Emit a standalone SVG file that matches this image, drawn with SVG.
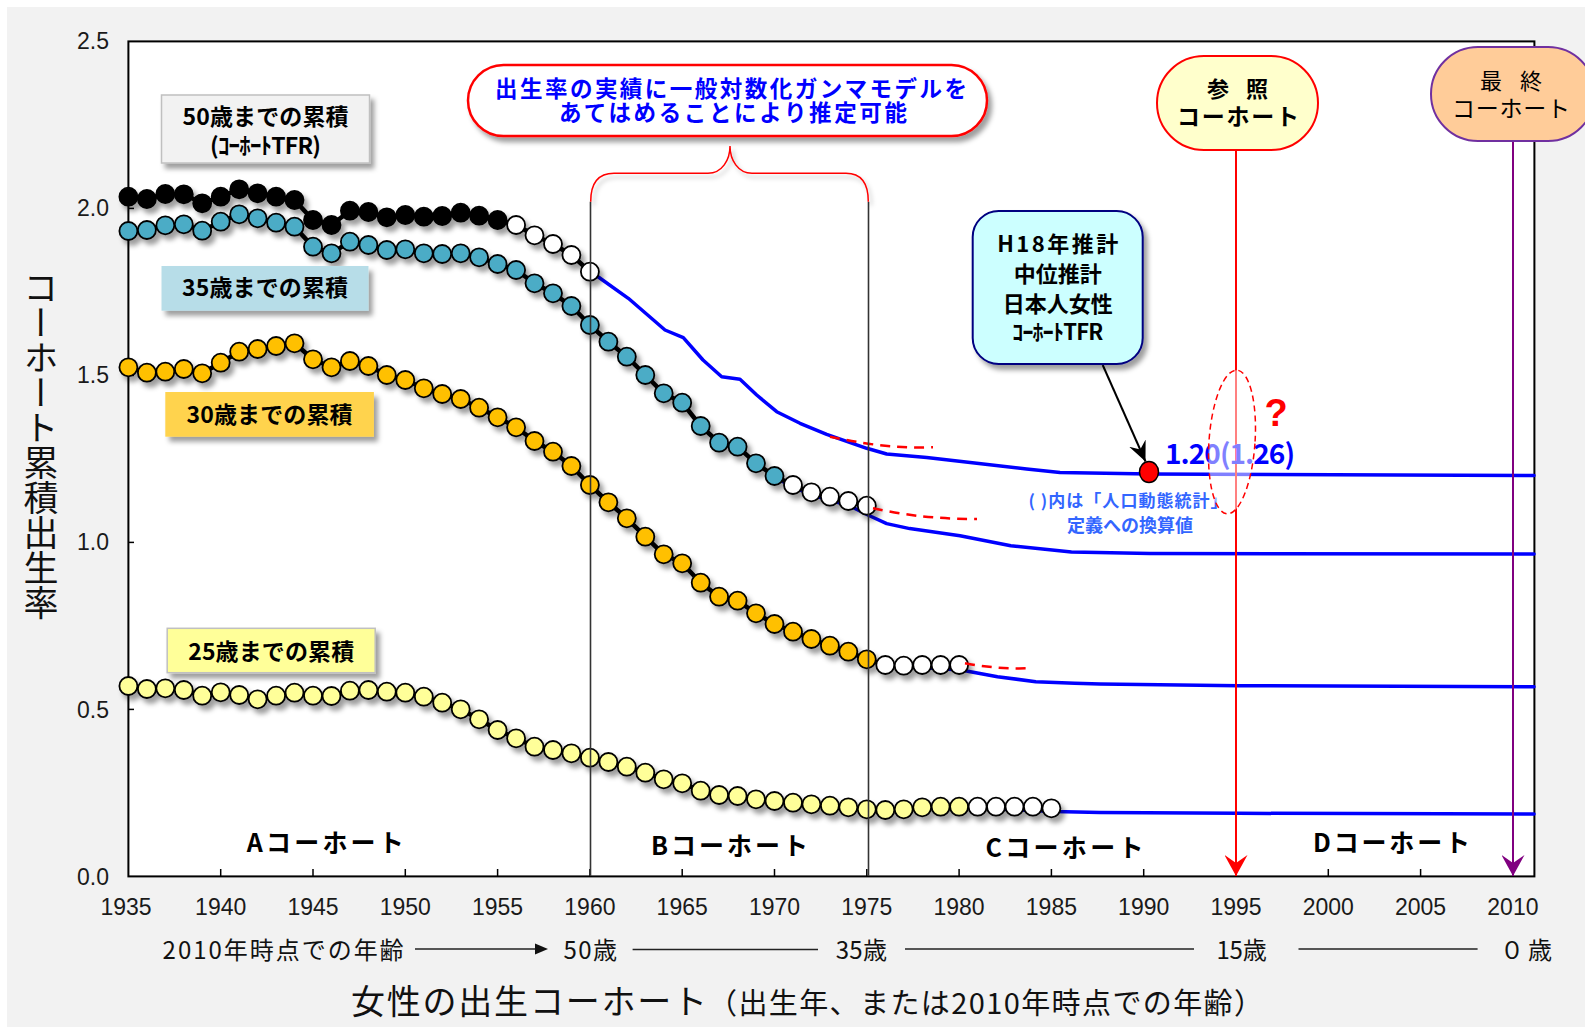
<svg xmlns="http://www.w3.org/2000/svg" width="1585" height="1027" viewBox="0 0 1585 1027">
<defs>
<style>
.jp{font-family:'Noto Sans CJK JP','Noto Sans CJK SC',sans-serif}
.num{font-family:'Liberation Sans',Arial,sans-serif;font-size:23px;fill:#1a1a1a}
.b{font-weight:bold}
.ser circle{stroke:#000;stroke-width:1.8}
.conn{fill:none;stroke:#000;stroke-width:4.5;stroke-linejoin:round}
.proj{fill:none;stroke:#0000ff;stroke-width:3.5;stroke-linejoin:round;stroke-linecap:round}
.rdash{fill:none;stroke:#ff0000;stroke-width:2.5;stroke-dasharray:10 7}
.tick{stroke:#000;stroke-width:1.5}
.vline{stroke:#333;stroke-width:1.6}
.k{fill:#000}.t{fill:#4bacc6}.o{fill:#ffc000}.y{fill:#ffff99}.w{fill:#fff}
.lbl{font-size:23px;font-weight:bold;fill:#000}
.coh{font-size:25px;font-weight:bold;fill:#000}
.row{font-size:24px;fill:#111}
.hl{stroke:#222;stroke-width:1.6}
</style>
<filter id="sh" x="-10%" y="-10%" width="130%" height="140%">
<feDropShadow dx="4" dy="5" stdDeviation="2.5" flood-color="#000" flood-opacity="0.38"/>
</filter>
<filter id="shs" x="-10%" y="-10%" width="130%" height="140%">
<feDropShadow dx="3" dy="4" stdDeviation="2" flood-color="#000" flood-opacity="0.25"/>
</filter>
<marker id="ahR" viewBox="0 0 21 23" refX="21" refY="11.5" markerWidth="21" markerHeight="23" markerUnits="userSpaceOnUse" orient="auto">
<path d="M0,0 L21,11.5 L0,23 L8,11.5 Z" fill="#ff0000"/>
</marker>
<marker id="ahP" viewBox="0 0 21 23" refX="21" refY="11.5" markerWidth="21" markerHeight="23" markerUnits="userSpaceOnUse" orient="auto">
<path d="M0,0 L21,11.5 L0,23 L8,11.5 Z" fill="#800080"/>
</marker>
<marker id="ahK" viewBox="0 0 20 18" refX="20" refY="9" markerWidth="20" markerHeight="18" markerUnits="userSpaceOnUse" orient="auto">
<path d="M0,0 L20,9 L0,18 L7,9 Z" fill="#000"/>
</marker>
</defs>

<rect x="0" y="0" width="1585" height="1027" fill="#fff"/>
<rect x="7" y="7" width="1578" height="1020" fill="#f2f2f2"/>

<g id="plot-area">
<rect x="128.4" y="41.4" width="1406" height="835" fill="#fff" stroke="#000" stroke-width="2"/>
<g class="tick">
<line x1="128.4" y1="208.4" x2="134" y2="208.4"/>
<line x1="128.4" y1="375.4" x2="134" y2="375.4"/>
<line x1="128.4" y1="542.4" x2="134" y2="542.4"/>
<line x1="128.4" y1="709.4" x2="134" y2="709.4"/>
<line x1="220.7" y1="876.4" x2="220.7" y2="869"/>
<line x1="313" y1="876.4" x2="313" y2="869"/>
<line x1="405.3" y1="876.4" x2="405.3" y2="869"/>
<line x1="497.6" y1="876.4" x2="497.6" y2="869"/>
<line x1="589.9" y1="876.4" x2="589.9" y2="869"/>
<line x1="682.2" y1="876.4" x2="682.2" y2="869"/>
<line x1="774.5" y1="876.4" x2="774.5" y2="869"/>
<line x1="866.8" y1="876.4" x2="866.8" y2="869"/>
<line x1="959.1" y1="876.4" x2="959.1" y2="869"/>
<line x1="1051.4" y1="876.4" x2="1051.4" y2="869"/>
<line x1="1143.7" y1="876.4" x2="1143.7" y2="869"/>
<line x1="1236" y1="876.4" x2="1236" y2="869"/>
<line x1="1328.3" y1="876.4" x2="1328.3" y2="869"/>
<line x1="1420.6" y1="876.4" x2="1420.6" y2="869"/>
<line x1="1512.9" y1="876.4" x2="1512.9" y2="869"/>
</g>
</g>

<g id="projections">
<polyline class="proj" points="589.9,271.7 598,276.7 628.3,298.3 665,330 683.3,337.7 703,360 721.7,376.7 740,379.3 756.7,395 776.7,411.7 800,423.3 826.7,434.3 866.7,448.3 886.7,454 926.7,457.5 976.7,463.3 1026.7,469 1060,472.5 1150,474 1534,475.5"/>
<polyline class="proj" points="776,478 795,488 813.3,495.5 831.7,500.5 850,506 869,515.5 886.7,523.6 909.7,528.6 960,535.7 1010.8,545.8 1071.4,551.9 1150,553.5 1534,554"/>
<polyline class="proj" points="905,667 932.5,668.3 961,670 997.5,676.7 1035.8,681.7 1074.6,683.3 1100,684 1238.8,685.7 1534,686.7"/>
<polyline class="proj" points="1000,809 1054,811.5 1100,812.5 1238.8,813.3 1534,814"/>
</g>

<g id="series-50" class="ser" filter="url(#sh)">
<polyline class="conn" points="128.4,196.7 146.9,199 165.3,194 183.8,194.3 202.2,203.3 220.7,196.7 239.2,189.3 257.6,193.3 276.1,196.7 294.5,200 313,220 331.5,225 349.9,210.7 368.4,212 386.8,217.3 405.3,215 423.8,216.7 442.2,216 460.7,212.7 479.1,215.7 497.6,220 516.1,225 534.5,235.3 553,244 571.4,255 589.9,271.7"/>
<g class="k">
<circle cx="128.4" cy="196.7" r="9"/><circle cx="146.9" cy="199" r="9"/><circle cx="165.3" cy="194" r="9"/><circle cx="183.8" cy="194.3" r="9"/><circle cx="202.2" cy="203.3" r="9"/><circle cx="220.7" cy="196.7" r="9"/><circle cx="239.2" cy="189.3" r="9"/><circle cx="257.6" cy="193.3" r="9"/><circle cx="276.1" cy="196.7" r="9"/><circle cx="294.5" cy="200" r="9"/><circle cx="313" cy="220" r="9"/><circle cx="331.5" cy="225" r="9"/><circle cx="349.9" cy="210.7" r="9"/><circle cx="368.4" cy="212" r="9"/><circle cx="386.8" cy="217.3" r="9"/><circle cx="405.3" cy="215" r="9"/><circle cx="423.8" cy="216.7" r="9"/><circle cx="442.2" cy="216" r="9"/><circle cx="460.7" cy="212.7" r="9"/><circle cx="479.1" cy="215.7" r="9"/><circle cx="497.6" cy="220" r="9"/>
</g>
<g class="w">
<circle cx="516.1" cy="225" r="9"/><circle cx="534.5" cy="235.3" r="9"/><circle cx="553" cy="244" r="9"/><circle cx="571.4" cy="255" r="9"/><circle cx="589.9" cy="271.7" r="9"/>
</g>
</g>

<g id="series-35" class="ser" filter="url(#sh)">
<polyline class="conn" points="128.4,231 146.9,230 165.3,225.3 183.8,224.3 202.2,230.7 220.7,221.7 239.2,214.3 257.6,218.3 276.1,222.7 294.5,226.7 313,246.7 331.5,253.3 349.9,241.7 368.4,245 386.8,250 405.3,249.3 423.8,253.3 442.2,254 460.7,253.3 479.1,257.3 497.6,264 516.1,270 534.5,283.3 553,293.3 571.4,306 589.9,325 608.4,341.7 626.8,356.7 645.3,375 663.7,393.3 682.2,402.7 700.7,426 719.1,442.7 737.6,446.7 756,463.3 774.5,476 793,485 811.4,492.3 829.9,496.7 848.3,501 866.8,505.7"/>
<g class="t">
<circle cx="128.4" cy="231" r="9"/><circle cx="146.9" cy="230" r="9"/><circle cx="165.3" cy="225.3" r="9"/><circle cx="183.8" cy="224.3" r="9"/><circle cx="202.2" cy="230.7" r="9"/><circle cx="220.7" cy="221.7" r="9"/><circle cx="239.2" cy="214.3" r="9"/><circle cx="257.6" cy="218.3" r="9"/><circle cx="276.1" cy="222.7" r="9"/><circle cx="294.5" cy="226.7" r="9"/><circle cx="313" cy="246.7" r="9"/><circle cx="331.5" cy="253.3" r="9"/><circle cx="349.9" cy="241.7" r="9"/><circle cx="368.4" cy="245" r="9"/><circle cx="386.8" cy="250" r="9"/><circle cx="405.3" cy="249.3" r="9"/><circle cx="423.8" cy="253.3" r="9"/><circle cx="442.2" cy="254" r="9"/><circle cx="460.7" cy="253.3" r="9"/><circle cx="479.1" cy="257.3" r="9"/><circle cx="497.6" cy="264" r="9"/><circle cx="516.1" cy="270" r="9"/><circle cx="534.5" cy="283.3" r="9"/><circle cx="553" cy="293.3" r="9"/><circle cx="571.4" cy="306" r="9"/><circle cx="589.9" cy="325" r="9"/><circle cx="608.4" cy="341.7" r="9"/><circle cx="626.8" cy="356.7" r="9"/><circle cx="645.3" cy="375" r="9"/><circle cx="663.7" cy="393.3" r="9"/><circle cx="682.2" cy="402.7" r="9"/><circle cx="700.7" cy="426" r="9"/><circle cx="719.1" cy="442.7" r="9"/><circle cx="737.6" cy="446.7" r="9"/><circle cx="756" cy="463.3" r="9"/><circle cx="774.5" cy="476" r="9"/>
</g>
<g class="w">
<circle cx="793" cy="485" r="9"/><circle cx="811.4" cy="492.3" r="9"/><circle cx="829.9" cy="496.7" r="9"/><circle cx="848.3" cy="501" r="9"/><circle cx="866.8" cy="505.7" r="9"/>
</g>
</g>

<g id="series-30" class="ser" filter="url(#sh)">
<polyline class="conn" points="128.4,367.3 146.9,372.7 165.3,371.7 183.8,369 202.2,373.3 220.7,362.7 239.2,351.7 257.6,349 276.1,346 294.5,343.3 313,359.3 331.5,367.3 349.9,361 368.4,366 386.8,375 405.3,380 423.8,388.3 442.2,394 460.7,399 479.1,407.7 497.6,417.3 516.1,427.3 534.5,441 553,451.7 571.4,466 589.9,485 608.4,502.3 626.8,518.3 645.3,536.7 663.7,554.3 682.2,563.3 700.7,582.7 719.1,596.7 737.6,600.7 756,613.3 774.5,624 793,631.7 811.4,639 829.9,645.7 848.3,651.7 866.8,659.3 885.3,665 903.7,665.7 922.2,665 940.6,665 959.1,665"/>
<g class="o">
<circle cx="128.4" cy="367.3" r="9"/><circle cx="146.9" cy="372.7" r="9"/><circle cx="165.3" cy="371.7" r="9"/><circle cx="183.8" cy="369" r="9"/><circle cx="202.2" cy="373.3" r="9"/><circle cx="220.7" cy="362.7" r="9"/><circle cx="239.2" cy="351.7" r="9"/><circle cx="257.6" cy="349" r="9"/><circle cx="276.1" cy="346" r="9"/><circle cx="294.5" cy="343.3" r="9"/><circle cx="313" cy="359.3" r="9"/><circle cx="331.5" cy="367.3" r="9"/><circle cx="349.9" cy="361" r="9"/><circle cx="368.4" cy="366" r="9"/><circle cx="386.8" cy="375" r="9"/><circle cx="405.3" cy="380" r="9"/><circle cx="423.8" cy="388.3" r="9"/><circle cx="442.2" cy="394" r="9"/><circle cx="460.7" cy="399" r="9"/><circle cx="479.1" cy="407.7" r="9"/><circle cx="497.6" cy="417.3" r="9"/><circle cx="516.1" cy="427.3" r="9"/><circle cx="534.5" cy="441" r="9"/><circle cx="553" cy="451.7" r="9"/><circle cx="571.4" cy="466" r="9"/><circle cx="589.9" cy="485" r="9"/><circle cx="608.4" cy="502.3" r="9"/><circle cx="626.8" cy="518.3" r="9"/><circle cx="645.3" cy="536.7" r="9"/><circle cx="663.7" cy="554.3" r="9"/><circle cx="682.2" cy="563.3" r="9"/><circle cx="700.7" cy="582.7" r="9"/><circle cx="719.1" cy="596.7" r="9"/><circle cx="737.6" cy="600.7" r="9"/><circle cx="756" cy="613.3" r="9"/><circle cx="774.5" cy="624" r="9"/><circle cx="793" cy="631.7" r="9"/><circle cx="811.4" cy="639" r="9"/><circle cx="829.9" cy="645.7" r="9"/><circle cx="848.3" cy="651.7" r="9"/><circle cx="866.8" cy="659.3" r="9"/>
</g>
<g class="w">
<circle cx="885.3" cy="665" r="9"/><circle cx="903.7" cy="665.7" r="9"/><circle cx="922.2" cy="665" r="9"/><circle cx="940.6" cy="665" r="9"/><circle cx="959.1" cy="665" r="9"/>
</g>
</g>

<g id="series-25" class="ser" filter="url(#sh)">
<polyline class="conn" points="128.4,686 146.9,689 165.3,688.3 183.8,690 202.2,695.7 220.7,692.3 239.2,695 257.6,699.3 276.1,695.7 294.5,692.7 313,695.7 331.5,696 349.9,690.7 368.4,690 386.8,691.7 405.3,692.7 423.8,696.7 442.2,702.7 460.7,709.3 479.1,719.3 497.6,730 516.1,738.3 534.5,746.7 553,750 571.4,753.3 589.9,757.7 608.4,762 626.8,766.7 645.3,772.7 663.7,779.3 682.2,783.3 700.7,790.7 719.1,795 737.6,796 756,799.3 774.5,801 793,802.7 811.4,804.3 829.9,805.7 848.3,807.3 866.8,809.3 885.3,810 903.7,809.3 922.2,807.3 940.6,806.7 959.1,806.7 977.6,806.7 996,806.7 1014.5,806.7 1032.9,806.7 1051.4,808.3"/>
<g class="y">
<circle cx="128.4" cy="686" r="9"/><circle cx="146.9" cy="689" r="9"/><circle cx="165.3" cy="688.3" r="9"/><circle cx="183.8" cy="690" r="9"/><circle cx="202.2" cy="695.7" r="9"/><circle cx="220.7" cy="692.3" r="9"/><circle cx="239.2" cy="695" r="9"/><circle cx="257.6" cy="699.3" r="9"/><circle cx="276.1" cy="695.7" r="9"/><circle cx="294.5" cy="692.7" r="9"/><circle cx="313" cy="695.7" r="9"/><circle cx="331.5" cy="696" r="9"/><circle cx="349.9" cy="690.7" r="9"/><circle cx="368.4" cy="690" r="9"/><circle cx="386.8" cy="691.7" r="9"/><circle cx="405.3" cy="692.7" r="9"/><circle cx="423.8" cy="696.7" r="9"/><circle cx="442.2" cy="702.7" r="9"/><circle cx="460.7" cy="709.3" r="9"/><circle cx="479.1" cy="719.3" r="9"/><circle cx="497.6" cy="730" r="9"/><circle cx="516.1" cy="738.3" r="9"/><circle cx="534.5" cy="746.7" r="9"/><circle cx="553" cy="750" r="9"/><circle cx="571.4" cy="753.3" r="9"/><circle cx="589.9" cy="757.7" r="9"/><circle cx="608.4" cy="762" r="9"/><circle cx="626.8" cy="766.7" r="9"/><circle cx="645.3" cy="772.7" r="9"/><circle cx="663.7" cy="779.3" r="9"/><circle cx="682.2" cy="783.3" r="9"/><circle cx="700.7" cy="790.7" r="9"/><circle cx="719.1" cy="795" r="9"/><circle cx="737.6" cy="796" r="9"/><circle cx="756" cy="799.3" r="9"/><circle cx="774.5" cy="801" r="9"/><circle cx="793" cy="802.7" r="9"/><circle cx="811.4" cy="804.3" r="9"/><circle cx="829.9" cy="805.7" r="9"/><circle cx="848.3" cy="807.3" r="9"/><circle cx="866.8" cy="809.3" r="9"/><circle cx="885.3" cy="810" r="9"/><circle cx="903.7" cy="809.3" r="9"/><circle cx="922.2" cy="807.3" r="9"/><circle cx="940.6" cy="806.7" r="9"/><circle cx="959.1" cy="806.7" r="9"/>
</g>
<g class="w">
<circle cx="977.6" cy="806.7" r="9"/><circle cx="996" cy="806.7" r="9"/><circle cx="1014.5" cy="806.7" r="9"/><circle cx="1032.9" cy="806.7" r="9"/><circle cx="1051.4" cy="808.3" r="9"/>
</g>
</g>

<g id="trend-dashes">
<path class="rdash" d="M830,436.7 C860,443 890,448.5 933,447.3"/>
<path class="rdash" d="M873,508.3 C900,514 930,519 977,519"/>
<path class="rdash" d="M965,663.3 C985,667 1005,669 1028,668.3"/>
</g>

<g id="cohort-dividers">
<line class="vline" x1="590.5" y1="201.7" x2="590.5" y2="876"/>
<line class="vline" x1="868.5" y1="201.7" x2="868.5" y2="876"/>
<path d="M590.7,201.7 C590.7,185 597,173.3 614,173.3 L708,173.3 C722,173.3 730,160 730,146 C730,160 738,173.3 752,173.3 L846,173.3 C862,173.3 868.3,185 868.3,201.7" fill="none" stroke="#ff0000" stroke-width="1.5" filter="url(#shs)"/>
</g>

<g id="label-50">
<rect x="161.5" y="95" width="208" height="68" fill="#f2f2f2" stroke="#c0c0c0" stroke-width="1.5" filter="url(#sh)"/>
<text class="jp lbl" x="265.5" y="125" text-anchor="middle" textLength="166">50歳までの累積</text>
<text class="jp lbl" x="265.5" y="154" text-anchor="middle" textLength="111">(ｺｰﾎｰﾄTFR)</text>
</g>
<g id="label-35">
<rect x="161.5" y="266" width="207" height="44.7" fill="#b7dde8" filter="url(#sh)"/>
<text class="jp lbl" x="265" y="296" text-anchor="middle" textLength="166">35歳までの累積</text>
</g>
<g id="label-30">
<rect x="165.3" y="392" width="208.6" height="44.7" fill="#ffd34e" filter="url(#sh)"/>
<text class="jp lbl" x="269.6" y="423" text-anchor="middle" textLength="166">30歳までの累積</text>
</g>
<g id="label-25">
<rect x="167.2" y="628.3" width="208" height="44.4" fill="#ffff99" stroke="#c0c0c0" stroke-width="1.5" filter="url(#sh)"/>
<text class="jp lbl" x="271.2" y="659.5" text-anchor="middle" textLength="166">25歳までの累積</text>
</g>

<g id="cohort-labels" class="jp coh">
<text x="246.8" y="852" textLength="157">Aコーホート</text>
<text x="651" y="855" textLength="157">Bコーホート</text>
<text x="985.5" y="857" textLength="158">Cコーホート</text>
<text x="1313" y="852" textLength="157">Dコーホート</text>
</g>

<g id="connectors">
<line x1="1236" y1="150" x2="1236" y2="876" stroke="#ff0000" stroke-width="2" marker-end="url(#ahR)"/>
<line x1="1513" y1="141" x2="1513" y2="876" stroke="#800080" stroke-width="2" marker-end="url(#ahP)"/>
<line x1="1102.7" y1="365" x2="1145.5" y2="461.5" stroke="#000" stroke-width="2" marker-end="url(#ahK)"/>
</g>

<g id="pill-ref">
<rect x="1157" y="56" width="161" height="94" rx="47" fill="#ffffcc" stroke="#ff0000" stroke-width="2"/>
<text class="jp b" x="1237.5" y="97" font-size="22" text-anchor="middle" textLength="61">参 照</text>
<text class="jp b" x="1238" y="125" font-size="23" text-anchor="middle" textLength="122">コーホート</text>
</g>
<g id="pill-final">
<rect x="1431" y="47" width="164" height="94" rx="47" fill="#ffcc99" stroke="#7030a0" stroke-width="2"/>
<text class="jp" x="1511" y="89" font-size="22" text-anchor="middle" textLength="62">最 終</text>
<text class="jp" x="1511" y="117" font-size="23" text-anchor="middle" textLength="118">コーホート</text>
</g>

<g id="callout-model">
<rect x="468" y="65" width="519" height="71" rx="35.5" fill="#fff" stroke="#ff0000" stroke-width="2.5" filter="url(#sh)"/>
<text class="jp b" x="731" y="96.5" font-size="22.5" fill="#0000ff" text-anchor="middle" textLength="472">出生率の実績に一般対数化ガンマモデルを</text>
<text class="jp b" x="733" y="120.5" font-size="22.5" fill="#0000ff" text-anchor="middle" textLength="348">あてはめることにより推定可能</text>
</g>

<g id="callout-h18">
<rect x="972.7" y="211" width="170" height="153" rx="26" fill="#ccffff" stroke="#000080" stroke-width="2" filter="url(#sh)"/>
<text class="jp b" x="1057.7" y="252" font-size="22" text-anchor="middle" textLength="121">H18年推計</text>
<text class="jp b" x="1057.7" y="282" font-size="22" text-anchor="middle">中位推計</text>
<text class="jp b" x="1057.7" y="312" font-size="22" text-anchor="middle">日本人女性</text>
<text class="jp b" x="1057.7" y="340" font-size="22" text-anchor="middle" textLength="91">ｺｰﾎｰﾄTFR</text>
</g>

<g id="point-2010">
<ellipse cx="1149" cy="472" rx="9.5" ry="10.5" fill="#ff0000" stroke="#000" stroke-width="1.5"/>
<text class="jp b" x="1165" y="464" font-size="28" fill="#0000ff" textLength="130">1.20(1.26)</text>
<text class="jp b" x="1128" y="507" font-size="17" fill="#3366ff" text-anchor="middle" textLength="199">( )内は「人口動態統計」</text>
<text class="jp b" x="1130" y="532" font-size="18" fill="#3366ff" text-anchor="middle">定義への換算値</text>
</g>

<g id="question-mark">
<ellipse cx="1232" cy="442" rx="23" ry="72" transform="rotate(4 1232 442)" fill="#fff" fill-opacity="0.5" stroke="#ff0000" stroke-width="1.5" stroke-dasharray="6 4"/>
<text x="1276" y="426" font-family="'Liberation Sans',Arial,sans-serif" font-size="38" font-weight="bold" fill="#ff0000" text-anchor="middle">?</text>
</g>

<g id="y-axis-labels" class="num" text-anchor="end">
<text x="109" y="49">2.5</text>
<text x="109" y="216">2.0</text>
<text x="109" y="383">1.5</text>
<text x="109" y="550">1.0</text>
<text x="109" y="717.5">0.5</text>
<text x="109" y="885">0.0</text>
</g>
<g id="x-axis-labels" class="num" text-anchor="middle">
<text x="126" y="915">1935</text>
<text x="220.7" y="915">1940</text>
<text x="313" y="915">1945</text>
<text x="405.3" y="915">1950</text>
<text x="497.6" y="915">1955</text>
<text x="589.9" y="915">1960</text>
<text x="682.2" y="915">1965</text>
<text x="774.5" y="915">1970</text>
<text x="866.8" y="915">1975</text>
<text x="959.1" y="915">1980</text>
<text x="1051.4" y="915">1985</text>
<text x="1143.7" y="915">1990</text>
<text x="1236" y="915">1995</text>
<text x="1328.3" y="915">2000</text>
<text x="1420.6" y="915">2005</text>
<text x="1512.9" y="915">2010</text>
</g>

<g id="age-row">
<text class="jp row" x="162.6" y="959" textLength="241">2010年時点での年齢</text>
<line class="hl" x1="415" y1="949" x2="537" y2="949"/>
<polygon points="535,943.5 548,949 535,954.5" fill="#111"/>
<text class="jp row" x="563.4" y="959" textLength="53.6">50歳</text>
<line class="hl" x1="632.6" y1="949.5" x2="818" y2="949.5"/>
<text class="jp row" x="835.7" y="959" textLength="51.3">35歳</text>
<line class="hl" x1="905" y1="949" x2="1194" y2="949"/>
<text class="jp row" x="1216.4" y="959" textLength="50.4">15歳</text>
<line class="hl" x1="1298.5" y1="949" x2="1477.6" y2="949"/>
<text class="jp row" x="1500" y="959" textLength="52">０歳</text>
</g>

<g id="axis-titles">
<text class="jp" x="41" y="270" font-size="35" fill="#111" style="writing-mode:vertical-rl">コーホート累積出生率</text>
<text class="jp" x="351" y="1014" font-size="34" fill="#111" textLength="356">女性の出生コーホート</text>
<text class="jp" x="708" y="1014" font-size="29" fill="#111" textLength="555">（出生年、または2010年時点での年齢）</text>
</g>
</svg>
